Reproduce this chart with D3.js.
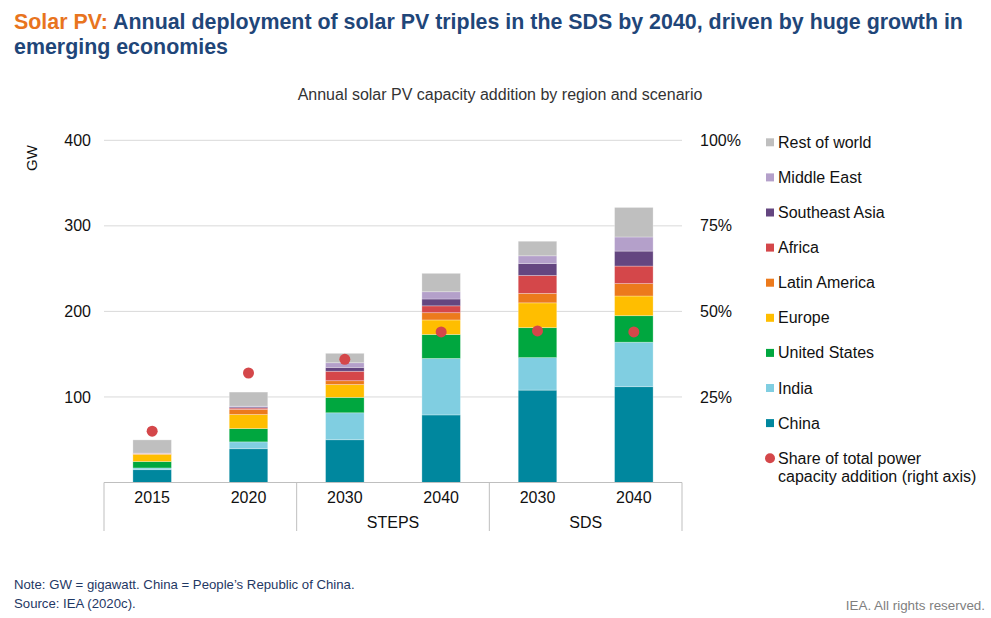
<!DOCTYPE html>
<html>
<head>
<meta charset="utf-8">
<script src="https://cdn.jsdelivr.net/npm/d3@7"></script>
<style>
  body { margin: 0; background: #fff; }
  svg text { font-family: "Liberation Sans", Arial, sans-serif; }
</style>
</head>
<body>
<svg id="chart" width="991" height="618"></svg>
<script>
// data (GW, share as fraction)
var years = ["2015", "2020", "2030", "2040", "2030", "2040"];
var scenarios = ["", "", "STEPS", "STEPS", "SDS", "SDS"];
var regions = ["China", "India", "United States", "Europe", "Latin America", "Africa", "Southeast Asia", "Middle East", "Rest of world"];
var china   = [15, 39.5, 50, 79, 108, 112];
var india   = [2, 8, 31.5, 66, 38, 52];
var usa     = [7.5, 15.5, 18, 28, 35, 31];
var europe  = [8.5, 16.5, 15, 17, 29, 23];
var latam   = [0.5, 6, 4.5, 8.5, 11, 14.5];
var africa  = [0.5, 1.5, 11, 8, 21, 20.5];
var seasia  = [0, 1.2, 4.5, 8, 14, 17.5];
var mideast = [0.3, 1, 5.5, 8.5, 9, 16.5];
var rest    = [15.5, 16.5, 11, 21.5, 17, 34.5];
var share   = [0.15, 0.32, 0.36, 0.44, 0.443, 0.44];
var gwTicks = [100, 200, 300, 400];
var pctTicks = [0.25, 0.5, 0.75, 1];

var colors = ["#00879e", "#80cee1", "#00a73f", "#ffbe00", "#ec7a1c", "#d4474a", "#644680", "#b4a0ca", "#bfbfbf"];
var dotColor = "#d4474a";

var series = [china, india, usa, europe, latam, africa, seasia, mideast, rest];
var rows = years.map(function(y, i) {
  var r = { key: i };
  regions.forEach(function(name, j) { r[name] = series[j][i]; });
  return r;
});

var svg = d3.select("#chart");

var plotLeft = 104, plotRight = 682, plotTop = 140.3, plotBottom = 482.5;

var x = d3.scaleBand().domain(d3.range(years.length)).range([plotLeft, plotRight])
  .paddingInner(0.6).paddingOuter(0.3);
var y = d3.scaleLinear().domain([0, 400]).range([plotBottom, plotTop]);
var y2 = d3.scaleLinear().domain([0, 1]).range([plotBottom, plotTop]);

// title
var title = svg.append("text").attr("x", 14).attr("y", 29)
  .attr("font-size", 21.4).attr("font-weight", "bold");
title.append("tspan").attr("fill", "#e8741e").text("Solar PV: ");
title.append("tspan").attr("fill", "#1f4679")
  .text("Annual deployment of solar PV triples in the SDS by 2040, driven by huge growth in");
svg.append("text").attr("x", 14).attr("y", 54)
  .attr("font-size", 21.4).attr("font-weight", "bold").attr("fill", "#1f4679")
  .text("emerging economies");

svg.append("text").attr("x", 500).attr("y", 100).attr("text-anchor", "middle")
  .attr("font-size", 16).attr("fill", "#333")
  .text("Annual solar PV capacity addition by region and scenario");

// gridlines
svg.append("g").selectAll("line").data(gwTicks).enter().append("line")
  .attr("x1", plotLeft).attr("x2", plotRight)
  .attr("y1", function(d) { return y(d); }).attr("y2", function(d) { return y(d); })
  .attr("stroke", "#d9d9d9").attr("stroke-width", 1);

// left axis
var yAxis = d3.axisLeft(y).tickValues(gwTicks).tickSize(0).tickPadding(13);
svg.append("g").attr("transform", "translate(" + plotLeft + ",0)").call(yAxis)
  .call(function(g) {
    g.select(".domain").remove();
    g.selectAll("text").attr("font-size", 16).attr("fill", "#111")
      .attr("font-family", "Liberation Sans, Arial, sans-serif");
  });
svg.append("text").attr("transform", "translate(37,158) rotate(-90)")
  .attr("text-anchor", "middle").attr("font-size", 15).attr("fill", "#111").text("GW");

// right axis
var y2Axis = d3.axisRight(y2).tickValues(pctTicks).tickSize(0).tickPadding(18)
  .tickFormat(d3.format(".0%"));
svg.append("g").attr("transform", "translate(" + plotRight + ",0)").call(y2Axis)
  .call(function(g) {
    g.select(".domain").remove();
    g.selectAll("text").attr("font-size", 16).attr("fill", "#111")
      .attr("font-family", "Liberation Sans, Arial, sans-serif");
  });

// stacked bars
var stack = d3.stack().keys(regions);
var layers = stack(rows);
svg.append("g").selectAll("g").data(layers).enter().append("g")
  .attr("fill", function(d, i) { return colors[i]; })
  .selectAll("rect").data(function(d) { return d; }).enter().append("rect")
  .attr("x", function(d) { return x(d.data.key); })
  .attr("width", x.bandwidth())
  .attr("y", function(d) { return y(d[1]); })
  .attr("height", function(d) { return Math.max(0, y(d[0]) - y(d[1])); })
  .attr("stroke", "rgba(255,255,255,0.35)").attr("stroke-width", 0.8);

// share dots
svg.append("g").selectAll("circle").data(share).enter().append("circle")
  .attr("cx", function(d, i) { return x(i) + x.bandwidth() / 2; })
  .attr("cy", function(d) { return y2(d); })
  .attr("r", 5.5).attr("fill", dotColor);

// category axis with group boxes
var axisG = svg.append("g");
axisG.append("line").attr("x1", plotLeft).attr("x2", plotRight)
  .attr("y1", plotBottom).attr("y2", plotBottom).attr("stroke", "#bfbfbf");
var step = x.step();
var seps = [plotLeft, plotLeft + 2 * step, plotLeft + 4 * step, plotRight];
axisG.selectAll(".sep").data(seps).enter().append("line")
  .attr("x1", function(d) { return d; }).attr("x2", function(d) { return d; })
  .attr("y1", plotBottom).attr("y2", 531).attr("stroke", "#bfbfbf");
axisG.selectAll(".yr").data(years).enter().append("text")
  .attr("x", function(d, i) { return x(i) + x.bandwidth() / 2; })
  .attr("y", 503).attr("text-anchor", "middle")
  .attr("font-size", 16).attr("fill", "#111").text(function(d) { return d; });
var groupNames = ["STEPS", "SDS"];
axisG.selectAll(".grp").data(groupNames).enter().append("text")
  .attr("x", function(d) {
    var idx = scenarios.indexOf(d);
    return (x(idx) + x(idx + 1) + x.bandwidth()) / 2;
  })
  .attr("y", 528).attr("text-anchor", "middle")
  .attr("font-size", 16).attr("fill", "#111").text(function(d) { return d; });

// legend (top to bottom = reverse stack order)
var legendItems = regions.slice().reverse();
var legendColors = colors.slice().reverse();
var lg = svg.append("g");
legendItems.forEach(function(name, i) {
  var cy = 142.3 + i * 35.1;
  lg.append("rect").attr("x", 766).attr("y", cy - 4).attr("width", 8).attr("height", 8)
    .attr("fill", legendColors[i]);
  lg.append("text").attr("x", 778).attr("y", cy + 5.5).attr("font-size", 16)
    .attr("fill", "#111").text(name);
});
var shareY = 142.3 + legendItems.length * 35.1;
lg.append("circle").attr("cx", 770).attr("cy", shareY).attr("r", 5).attr("fill", dotColor);
lg.append("text").attr("x", 778).attr("y", shareY + 5.5).attr("font-size", 16)
  .attr("fill", "#111").text("Share of total power");
lg.append("text").attr("x", 778).attr("y", shareY + 23.5).attr("font-size", 16)
  .attr("fill", "#111").text("capacity addition (right axis)");

// footer
svg.append("text").attr("x", 14).attr("y", 589).attr("font-size", 13.2)
  .attr("fill", "#1f3864").text("Note: GW = gigawatt. China = People\u2019s Republic of China.");
svg.append("text").attr("x", 14).attr("y", 608).attr("font-size", 13.2)
  .attr("fill", "#1f3864").text("Source: IEA (2020c).");
svg.append("text").attr("x", 985).attr("y", 610).attr("text-anchor", "end")
  .attr("font-size", 13.4).attr("fill", "#7f7f7f").text("IEA. All rights reserved.");
</script>
</body>
</html>
